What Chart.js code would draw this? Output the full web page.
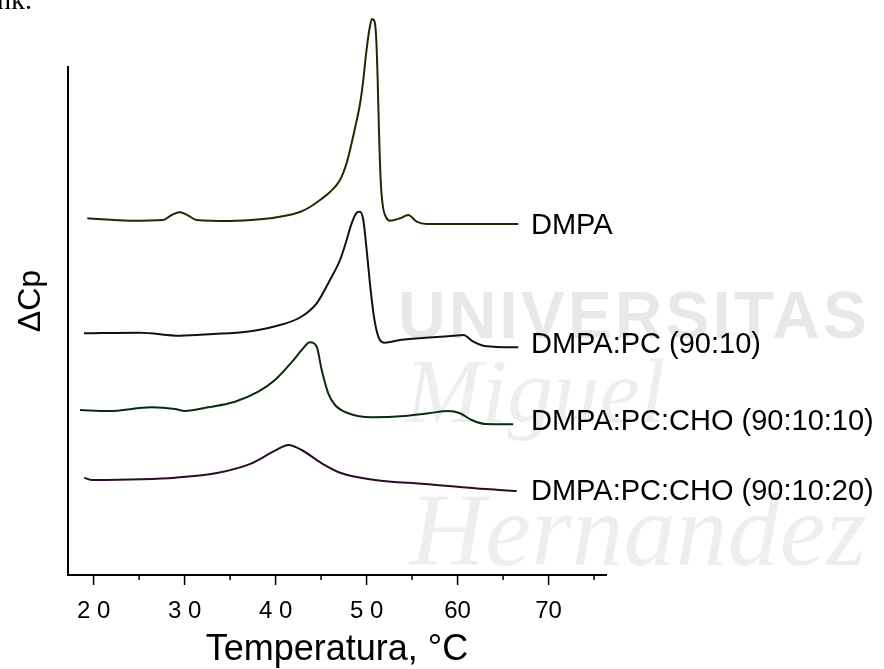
<!DOCTYPE html>
<html>
<head>
<meta charset="utf-8">
<script src="https://cdn.jsdelivr.net/npm/chart.js@4.4.0/dist/chart.umd.min.js"></script>
<style>
    html, body { margin: 0; padding: 0; background: #fff; }
    #wrap { position: relative; width: 884px; height: 669px; }
</style>
</head>
<body>
<div id="wrap"><canvas id="dscChart"></canvas></div>
<script>
// temperature (°C) and shifted ΔCp (arbitrary units)
const tempDMPA = [19.31, 24.0, 27.66, 28.58, 29.49, 30.41, 31.33, 34.99, 38.29, 40.48, 42.68, 43.78, 44.88, 45.98, 47.08, 47.81, 48.36, 48.73, 49.09, 49.35, 49.64, 49.93, 50.3, 50.59, 50.89, 51.07, 51.22, 51.36, 51.55, 51.77, 52.13, 52.57, 53.67, 54.58, 55.51, 56.6, 66.67];
const cpDMPA = [356.7, 354.3, 355, 360, 362.7, 359.3, 355, 354, 355.7, 358.3, 363, 368, 375, 383, 395, 412, 432, 447, 462, 475, 495, 520, 545, 556, 553, 535, 495, 445, 395, 370, 358, 354.3, 356.7, 360, 353.3, 351, 351];

const tempPC = [18.95, 25.1, 29.49, 33.15, 36.82, 39.75, 42.68, 44.52, 45.98, 47.08, 47.81, 48.36, 48.91, 49.27, 49.64, 50.01, 50.37, 50.81, 51.29, 52.02, 53.67, 57.33, 60.26, 60.63, 61.73, 62.82, 63.92, 66.67];
const cpPC = [241.7, 242.3, 239.3, 241, 243.3, 248.3, 257.5, 271.7, 295, 315, 335, 351.7, 362.3, 363.3, 355, 325, 291.7, 258.3, 238.3, 232.3, 235, 237.7, 239.7, 240, 233.3, 229.3, 228.3, 227.7];

const tempCHO10 = [18.51, 21.62, 26.38, 28.95, 30.04, 32.6, 35.54, 38.1, 39.93, 42.13, 42.87, 43.78, 44.52, 45.07, 45.79, 46.53, 47.99, 50.56, 54.22, 56.78, 58.98, 60.26, 61.55, 63.01, 66.12];
const cpCHO10 = [165, 164, 167.7, 166, 164, 167.7, 173.3, 183.3, 195, 216.7, 225, 232.7, 228.3, 205, 181.7, 170, 161.7, 157.7, 159, 161.7, 164, 161.7, 155, 151, 150.7];

const tempCHO20 = [18.98, 19.79, 25.29, 28.95, 33.7, 37.37, 39.93, 41.4, 42.87, 45.07, 47.26, 50.92, 56.42, 61.91, 66.49];
const cpCHO20 = [97.3, 95, 95.7, 97.3, 102.3, 111.7, 124.3, 130, 125, 111.7, 101.7, 95, 91, 86.7, 84];

const seriesNames = ['DMPA', 'DMPA:PC (90:10)', 'DMPA:PC:CHO (90:10:10)', 'DMPA:PC:CHO (90:10:20)'];

// x axis ticks: majors every 10, minors every 5
const xTicks = [20, 25, 30, 35, 40, 45, 50, 55, 60, 65, 70, 75];
const xTickText = { 20: '2 0', 30: '3 0', 40: '4 0', 50: '5 0', 60: '60', 70: '70' };

const lineColors = ['#262600', '#111111', '#0c2a0c', '#2a0c2a'];
const nameShiftY = [2, -2, -2, 1]; // small vertical nudge of each curve name

function toPoints(xs, ys) {
    return xs.map((x, i) => ({ x: x, y: ys[i] }));
}

// faint watermark, tick marks, curve names, axis titles
const decorPlugin = {
    id: 'decor',
    beforeDatasetsDraw(chart) {
        const c = chart.ctx;
        c.save();
        c.textBaseline = 'alphabetic';
        c.fillStyle = 'rgba(0,0,0,0.09)';
        c.letterSpacing = '3px';
        c.font = 'bold 66px "Liberation Sans", Arial, sans-serif';
        c.fillText('UNIVERSITAS', 398, 338);
        c.letterSpacing = '0px';
        c.fillStyle = 'rgba(0,0,0,0.065)';
        c.font = 'italic 92px "Liberation Serif", serif';
        c.fillText('Miguel', 405, 422);
        c.font = 'italic 104px "Liberation Serif", serif';
        c.fillText('Hernandez', 410, 565);
        c.restore();
    },
    afterDraw(chart) {
        const c = chart.ctx;
        const xs = chart.scales.x;
        c.save();
        // tick marks below the axis
        c.strokeStyle = '#000';
        c.lineWidth = 1.5;
        xTicks.forEach(v => {
            const px = xs.getPixelForValue(v);
            const len = (v % 10 === 0) ? 10 : 5;
            c.beginPath();
            c.moveTo(px, xs.top);
            c.lineTo(px, xs.top + len);
            c.stroke();
        });
        // name at the end of each curve
        c.fillStyle = '#000';
        c.font = '29px "Liberation Sans", Arial, sans-serif';
        c.textBaseline = 'middle';
        c.textAlign = 'left';
        chart.data.datasets.forEach((ds, i) => {
            const pts = chart.getDatasetMeta(i).data;
            const last = pts[pts.length - 1];
            c.fillText(seriesNames[i], 531, last.y + nameShiftY[i]);
        });
        // axis titles
        c.textAlign = 'center';
        c.font = '36px "Liberation Sans", Arial, sans-serif';
        c.fillText('Temperatura, °C', (xs.left + xs.right) / 2, 650);
        c.translate(31, 301);
        c.rotate(-Math.PI / 2);
        c.font = '32px "Liberation Sans", Arial, sans-serif';
        c.fillText('ΔCp', 0, 0);
        c.restore();
        // fragment of the page text above the figure
        c.save();
        c.fillStyle = '#000';
        c.font = '28px "Liberation Serif", serif';
        c.textBaseline = 'alphabetic';
        c.fillText('nk.', -3, 9);
        c.restore();
    }
};

document.addEventListener('DOMContentLoaded', function() {
    const ctx = document.getElementById('dscChart').getContext('2d');
    const curves = [
        toPoints(tempDMPA, cpDMPA),
        toPoints(tempPC, cpPC),
        toPoints(tempCHO10, cpCHO10),
        toPoints(tempCHO20, cpCHO20)
    ];
    new Chart(ctx, {
        type: 'line',
        data: {
            datasets: curves.map((pts, i) => ({
                label: seriesNames[i],
                data: pts,
                borderColor: lineColors[i],
                borderWidth: 2,
                pointRadius: 0,
                fill: false,
                cubicInterpolationMode: 'monotone',
                clip: false // the DMPA peak rises above the axis
            }))
        },
        options: {
            responsive: true,
            maintainAspectRatio: false,
            animation: false,
            layout: { padding: { left: 68, right: 278, top: 67, bottom: 0 } },
            plugins: {
                legend: { display: false },
                tooltip: { enabled: false }
            },
            scales: {
                x: {
                    type: 'linear',
                    min: 17.19,
                    max: 76.31,
                    grid: { display: false, drawTicks: false },
                    border: { display: true, color: '#000', width: 2 },
                    afterBuildTicks: scale => { scale.ticks = xTicks.map(v => ({ value: v })); },
                    afterFit: scale => { scale.height = 94; },
                    ticks: {
                        autoSkip: false,
                        maxRotation: 0,
                        padding: 22,
                        color: '#000',
                        font: { family: '"Liberation Sans", Arial, sans-serif', size: 24 },
                        callback: v => xTickText[v] || ''
                    }
                },
                y: {
                    min: 0,
                    max: 508,
                    grid: { display: false, drawTicks: false },
                    border: { display: true, color: '#000', width: 2 },
                    ticks: { display: false },
                    afterFit: scale => { scale.width = 0; }
                }
            }
        },
        plugins: [decorPlugin]
    });
});
</script>
</body>
</html>
